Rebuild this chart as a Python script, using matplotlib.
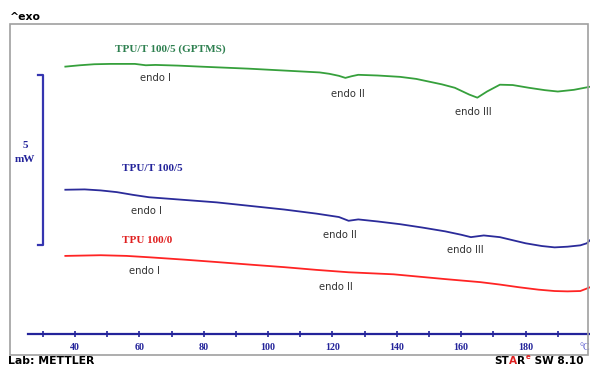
import matplotlib
matplotlib.use("Agg")
import matplotlib.pyplot as plt
from matplotlib.patches import Rectangle

# DSC curves (temperature in degC, heat flow in mW, offset per curve)
t_green = [37, 41.5, 46, 51, 58.6, 62, 65, 72, 79, 94, 110, 116, 119, 122, 124,
           126, 128, 134, 141, 146, 150, 154, 158, 162.5, 165, 168, 172, 176,
           181, 186, 190, 195, 200]
hf_green = [7.84, 7.88, 7.91, 7.92, 7.92, 7.88, 7.89, 7.87, 7.84, 7.78, 7.70,
            7.67, 7.63, 7.57, 7.51, 7.56, 7.60, 7.58, 7.54, 7.48, 7.40, 7.32,
            7.22, 7.02, 6.93, 7.11, 7.31, 7.30, 7.22, 7.15, 7.11, 7.16, 7.25]

t_blue = [37, 43, 48, 53, 58, 63, 70, 84, 105, 115, 122, 125, 128, 134, 141,
          148, 155, 160, 163, 167, 172, 176, 180, 185, 189, 193, 197, 199, 200]
hf_blue = [4.23, 4.24, 4.21, 4.16, 4.08, 4.01, 3.96, 3.86, 3.65, 3.53, 3.43,
           3.32, 3.36, 3.30, 3.22, 3.12, 3.01, 2.91, 2.84, 2.89, 2.84, 2.75,
           2.66, 2.58, 2.54, 2.56, 2.60, 2.66, 2.75]

t_red = [37, 48, 56, 63, 74, 84, 95, 105, 115, 125, 139, 147, 155, 166, 172,
         178, 184, 189, 193, 197, 200]
hf_red = [2.29, 2.31, 2.29, 2.25, 2.18, 2.11, 2.03, 1.96, 1.88, 1.81, 1.75,
          1.68, 1.61, 1.52, 1.45, 1.37, 1.30, 1.26, 1.25, 1.26, 1.37]

names = ["TPU/T 100/5 (GPTMS)", "TPU/T 100/5", "TPU 100/0"]
major_ticks = [40, 60, 80, 100, 120, 140, 160, 180]
minor_ticks = [30, 50, 70, 90, 110, 130, 150, 170, 190]

c_green, c_blue, c_red = "#36a03c", "#2b2b9a", "#ff2424"
navy = "#23239a"

fig = plt.figure(figsize=(5.9, 3.65), dpi=100)
W, H = 590, 365
# gray frame
fig.patches.append(Rectangle((10 / W, 1 - 355 / H), 578 / W, 331 / H,
                             transform=fig.transFigure, fill=False,
                             edgecolor="#a0a0a0", linewidth=1.2))

ax = fig.add_axes([28 / W, 1 - 334 / H, 562 / W, 310 / H])
ax.set_xlim(25.4, 200)
ax.set_ylim(0, 9.09)
ax.patch.set_alpha(0)
for s in ["top", "left", "right"]:
    ax.spines[s].set_visible(False)
ax.spines["bottom"].set_color(navy)
ax.spines["bottom"].set_linewidth(1.6)
ax.set_yticks([])
ax.set_xticks(major_ticks)
ax.set_xticks(minor_ticks, minor=True)
ax.tick_params(axis="x", which="both", direction="inout", colors=navy,
               length=5, width=1.2, pad=4)
for lab in ax.get_xticklabels():
    lab.set_fontfamily("Liberation Serif")
    lab.set_fontweight("bold")
    lab.set_fontsize(7.2)

ax.plot(t_green, hf_green, color=c_green, lw=1.3, clip_on=False)
ax.plot(t_blue, hf_blue, color=c_blue, lw=1.3, clip_on=False)
ax.plot(t_red, hf_red, color=c_red, lw=1.3, clip_on=False)

serif = dict(family="Liberation Serif", weight="bold", fontsize=8,
             ha="center", va="center")
ax.text(69.5, 8.36, names[0], color="#2e8050", **serif)
ax.text(63.9, 4.85, names[1], color=navy, **serif)
ax.text(62.3, 2.75, names[2], color="#e02020", **serif)

endo = dict(family="DejaVu Sans", fontsize=7.2, color="#333333",
            ha="center", va="center")
for x, y, s in [(65, 7.51, "endo I"), (124.7, 7.05, "endo II"),
                (163.7, 6.52, "endo III"), (62.3, 3.60, "endo I"),
                (122.2, 2.89, "endo II"), (161.2, 2.46, "endo III"),
                (61.7, 1.84, "endo I"), (120.9, 1.37, "endo II")]:
    ax.text(x, y, s, **endo)

# 5 mW scale bar
ax.plot([28.6, 30.1, 30.1, 28.6], [7.60, 7.60, 2.60, 2.60], color="#3535b0",
        lw=1.6, clip_on=False)
ax.text(24.6, 5.52, "5", color=navy, **serif)
ax.text(24.6, 5.12, "mW", color=navy, **serif)

ax.text(200, -0.4, "°C", color="#5555cc", family="Liberation Serif",
        fontsize=7.2, ha="right", va="center", clip_on=False)

foot = dict(fontsize=7.8, weight="bold", family="DejaVu Sans", va="center",
            ha="left")
fig.text(10 / W, 1 - 17 / H, "^exo", **foot)
fig.text(8 / W, 1 - 361 / H, "Lab: METTLER", **foot)

# STARe logo, pieces placed one after another
fig.canvas.draw()
r = fig.canvas.get_renderer()
x = 494
for s, col, dy, size in [("ST", "black", 0, 7.6), ("A", "#dd2020", 0, 7.6),
                         ("R", "black", 0, 7.6), ("e", "#dd2020", 4, 5),
                         (" SW 8.10", "black", 0, 7.6)]:
    opts = dict(foot, fontsize=size)
    t = fig.text(x / W, (4 + dy) / H, s, color=col, **opts)
    x += t.get_window_extent(r).width + 0.3

fig.savefig("out.png", dpi=100)
